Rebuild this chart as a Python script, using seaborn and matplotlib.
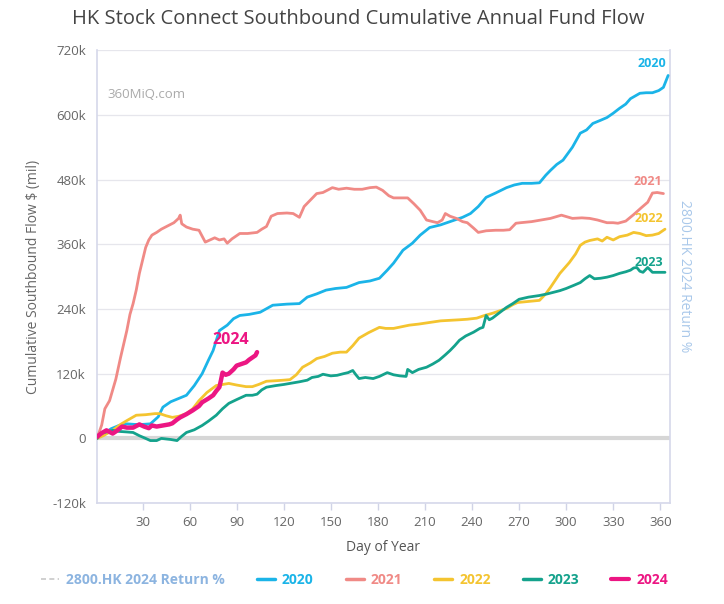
import numpy as np
import pandas as pd
import matplotlib
matplotlib.use("Agg")
import matplotlib.pyplot as plt
from matplotlib.lines import Line2D
import seaborn as sns

# --- data (cumulative flow, HK$ mil, in thousands) ---
days_2020 = [1, 5, 10, 15, 20, 25, 30, 35, 40, 43, 48, 53, 58, 63, 68, 72, 75, 79, 84, 88, 92, 98, 105,
             113, 122, 130, 135, 141, 147, 153, 160, 168, 175, 181, 186, 190, 196, 202, 207, 213, 220,
             228, 234, 239, 244, 249, 255, 262, 267, 272, 278, 283, 287, 290, 294, 298, 304, 309, 313,
             317, 322, 326, 330, 334, 338, 341, 347, 351, 355, 359, 362, 365]
flow_2020 = [0, 8, 18, 24, 27, 26, 26, 27, 40, 58, 68, 74, 80, 98, 120, 145, 163, 200, 210, 222, 228,
             230, 234, 247, 249, 250, 262, 268, 275, 278, 280, 289, 292, 297, 312, 325, 349, 362, 377,
             391, 396, 404, 410, 417, 430, 447, 455, 465, 470, 473, 473, 474, 488, 497, 508, 516, 540,
             566, 572, 584, 590, 595, 603, 612, 620, 630, 640, 641, 641, 645, 651, 673]

days_2021 = [1, 4, 6, 9, 11, 13, 16, 18, 20, 22, 24, 26, 28, 30, 32, 34, 36, 39, 42, 46, 50, 53, 54, 55,
             58, 62, 66, 70, 73, 76, 79, 82, 84, 87, 92, 97, 103, 106, 109, 112, 116, 122, 126, 130,
             133, 137, 141, 145, 151, 155, 160, 165, 170, 175, 179, 183, 187, 190, 195, 199, 203, 207,
             211, 215, 218, 221, 223, 226, 230, 234, 237, 241, 244, 249, 255, 260, 264, 268, 271, 278,
             284, 290, 297, 304, 310, 315, 320, 326, 330, 333, 338, 343, 348, 352, 355, 358, 362]
flow_2021 = [0, 25, 55, 70, 90, 110, 150, 175, 200, 230, 250, 275, 306, 330, 354, 368, 377, 382, 388,
             394, 400, 408, 414, 398, 392, 388, 386, 364, 368, 372, 368, 370, 362, 370, 380, 380, 382,
             388, 393, 412, 417, 418, 417, 410, 430, 442, 454, 456, 465, 462, 464, 462, 462, 465, 466,
             460, 450, 446, 446, 446, 435, 423, 405, 402, 400, 405, 417, 412, 408, 402, 400, 390, 382,
             385, 386, 386, 387, 399, 400, 402, 405, 408, 414, 408, 409, 408, 405, 400, 400, 399, 403,
             415, 428, 438, 455, 456, 454]

days_2022 = [1, 5, 11, 16, 20, 26, 32, 38, 41, 45, 49, 53, 58, 62, 66, 71, 77, 81, 85, 90, 96, 100, 104,
             109, 115, 120, 124, 128, 132, 137, 141, 146, 151, 156, 160, 164, 168, 174, 181, 185, 190,
             195, 200, 206, 213, 220, 226, 232, 237, 243, 248, 253, 258, 262, 266, 269, 276, 283, 287,
             290, 293, 296, 299, 302, 306, 309, 312, 315, 320, 323, 326, 330, 334, 339, 343, 347, 351,
             355, 359, 363]
flow_2022 = [0, 5, 15, 26, 33, 43, 44, 46, 46, 42, 39, 41, 46, 55, 70, 85, 98, 100, 102, 99, 96, 96,
             100, 106, 107, 108, 109, 118, 132, 140, 148, 152, 158, 160, 160, 172, 186, 196, 206, 204,
             204, 207, 210, 212, 215, 218, 219, 220, 221, 223, 228, 232, 237, 241, 248, 252, 254, 256,
             268, 280, 293, 306, 316, 326, 342, 358, 364, 367, 370, 366, 373, 368, 374, 377, 382, 380,
             376, 377, 380, 388]

days_2023 = [1, 3, 7, 11, 15, 20, 24, 28, 32, 35, 39, 42, 45, 48, 52, 55, 58, 63, 68, 72, 77, 81, 85, 90,
             96, 100, 103, 106, 109, 115, 120, 124, 130, 135, 138, 142, 145, 150, 154, 158, 161, 164,
             166, 168, 172, 177, 181, 186, 190, 194, 198, 199, 202, 206, 211, 215, 219, 223, 226, 229,
             232, 236, 241, 245, 247, 249, 251, 253, 257, 262, 266, 270, 276, 283, 288, 292, 296, 300,
             305, 309, 312, 315, 318, 322, 326, 330, 334, 338, 341, 343, 345, 347, 349, 352, 355, 359,
             363]
flow_2023 = [0, 9, 12, 15, 13, 12, 11, 5, 0, -4, -4, 0, -1, -2, -4, 4, 11, 16, 24, 32, 43, 55, 65, 72,
             80, 80, 82, 90, 95, 98, 100, 102, 105, 108, 113, 115, 119, 116, 117, 120, 122, 126, 118,
             111, 113, 111, 115, 122, 118, 116, 115, 128, 122, 128, 132, 138, 145, 155, 163, 172, 182,
             190, 197, 204, 206, 228, 220, 223, 232, 243, 250, 258, 262, 265, 268, 271, 274, 278, 284,
             289, 296, 302, 296, 297, 299, 302, 306, 309, 312, 316, 317, 310, 308, 317, 308, 308, 308]

days_2024 = [1, 4, 7, 9, 11, 14, 17, 20, 24, 28, 31, 34, 36, 39, 43, 47, 49, 52, 54, 58, 62, 66, 68, 72,
             75, 77, 79, 80, 81, 83, 85, 88, 90, 93, 96, 98, 100, 102, 103]
flow_2024 = [3, 10, 15, 12, 9, 15, 22, 20, 20, 26, 22, 19, 24, 22, 24, 26, 28, 35, 39, 45, 52, 60, 67,
             74, 80, 88, 95, 108, 122, 118, 120, 128, 135, 138, 141, 146, 150, 154, 160]

years = ["2020", "2021", "2022", "2023", "2024"]
colors = {"2020": "#1bb4e8", "2021": "#f08a86", "2022": "#f4c430",
          "2023": "#14a28c", "2024": "#ec1683"}
y_ticks = [-120, 0, 120, 240, 360, 480, 600, 720]
x_ticks = [30, 60, 90, 120, 150, 180, 210, 240, 270, 300, 330, 360]

series = {"2020": (days_2020, flow_2020), "2021": (days_2021, flow_2021),
          "2022": (days_2022, flow_2022), "2023": (days_2023, flow_2023),
          "2024": (days_2024, flow_2024)}
df = pd.concat([pd.DataFrame({"day": d, "flow": v, "year": y}) for y, (d, v) in series.items()])

sns.set_theme(style="white")
plt.rcParams["font.family"] = ["Open Sans", "DejaVu Sans"]

fig = plt.figure(figsize=(7.24, 6.04), dpi=100)
ax = fig.add_axes([0.134, 0.167, 0.791, 0.750])

# gridlines + thick zero line
for t in y_ticks:
    if t != 0:
        ax.axhline(t, color="#e6e6ec", lw=0.9, zorder=0)
ax.axhline(0, color="#d6d6d6", lw=3, zorder=1)

for yr in years:
    sub = df[df["year"] == yr]
    sns.lineplot(data=sub, x="day", y="flow", ax=ax, color=colors[yr],
                 lw=3.2 if yr == "2024" else 2.0, zorder=5 if yr == "2024" else 3,
                 estimator=None, legend=False)

ax.set_xlim(1, 366)
ax.set_ylim(-120, 720)
ax.set_xticks(x_ticks)
ax.set_yticks(y_ticks)
ax.set_yticklabels([f"{t}k" if t != 0 else "0" for t in y_ticks])
ax.tick_params(axis="x", colors="#d0d3e6", labelcolor="#666666", labelsize=9.5,
               length=5, width=1, bottom=True, direction="out", pad=4)
ax.tick_params(axis="y", left=False, length=0, labelcolor="#666666", labelsize=9.5, pad=8)
ax.set_xlabel("Day of Year", color="#555555", fontsize=10, labelpad=8)
ax.set_ylabel("Cumulative Southbound Flow $ (mil)", color="#666666", fontsize=10, labelpad=8)
for s in ["left", "bottom", "right"]:
    ax.spines[s].set_color("#d5d8ea")
    ax.spines[s].set_linewidth(1.2)
ax.spines["top"].set_visible(False)

# right axis (return %), no values shown
ax2 = ax.twinx()
ax2.set_yticks([])
ax2.tick_params(length=0)
ax2.set_ylabel("2800.HK 2024 Return %", color="#a9c8ea", fontsize=10, rotation=270, labelpad=16)
for s in ax2.spines.values():
    s.set_visible(False)

# end labels
ax.text(days_2020[-1] - 1, 688, "2020", color=colors["2020"], fontsize=9, fontweight="bold", ha="right")
ax.text(days_2021[-1] - 1, 470, "2021", color=colors["2021"], fontsize=9, fontweight="bold", ha="right")
ax.text(days_2022[-1] - 1, 402, "2022", color=colors["2022"], fontsize=9, fontweight="bold", ha="right")
ax.text(days_2023[-1] - 1, 320, "2023", color=colors["2023"], fontsize=9, fontweight="bold", ha="right")
ax.text(days_2024[-1] - 17, 175, "2024", color=colors["2024"], fontsize=11.5, fontweight="bold", ha="center")

ax.text(0.018, 0.895, "360MiQ.com", transform=ax.transAxes, color="#aaaaaa", fontsize=9.5)

fig.suptitle("HK Stock Connect Southbound Cumulative Annual Fund Flow", x=0.495, y=0.985,
             fontsize=14.5, color="#444444")

handles = [Line2D([0], [0], color="#c8c8c8", lw=1.2, ls=(0, (3, 2)))]
handles += [Line2D([0], [0], color=colors[y], lw=3 if y == "2024" else 2.5) for y in years]
labels = ["2800.HK 2024 Return %"] + years
leg = fig.legend(handles, labels, loc="center", bbox_to_anchor=(0.49, 0.04), ncol=6, frameon=False,
                 handlelength=1.3, handletextpad=0.5, columnspacing=2.3, fontsize=10)
for txt, c in zip(leg.get_texts(), ["#8cb4e0"] + [colors[y] for y in years]):
    txt.set_color(c)
    txt.set_fontweight("bold")

fig.savefig("out.png", dpi=100)
